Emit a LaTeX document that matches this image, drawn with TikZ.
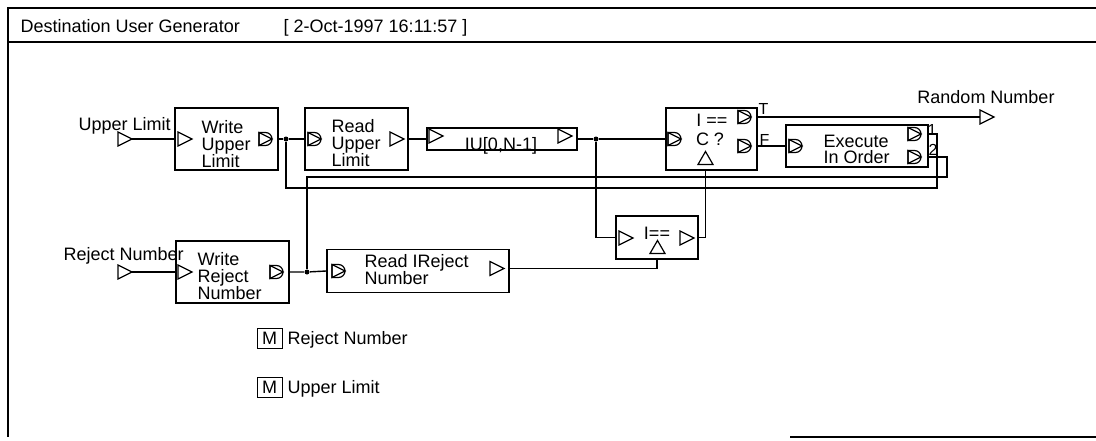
\documentclass[tikz,border=0pt]{standalone}
\usepackage{fontspec}
\setmainfont{Liberation Sans}
\begin{document}
\begin{tikzpicture}[x=1pt,y=-1pt, line width=1.4pt,
  font=\fontsize{18}{17}\selectfont,
  box/.style={draw, rectangle, inner sep=0},
  txt/.style={inner sep=0, anchor=base west},
  ctxt/.style={inner sep=0, anchor=base},
  small/.style={inner sep=0, anchor=base west, font=\fontsize{16}{16}\selectfont},
  wire/.style={line width=1.4pt},
  port/.style={line width=1.2pt, line join=miter},
  jdot/.style={circle, fill, inner sep=0, minimum size=5},
  mbox/.style={draw, rectangle, inner sep=0, line width=1pt, minimum width=25, minimum height=20},
  pics/tri/.style={code={\draw[port] (0,-7)--(14,0)--(0,7)--cycle;}},
  pics/dport/.style={code={
     \draw[port] (0,-6.5)--(13,0)--(0,6.5)--cycle;
     \draw[port] (0,-6.5)--(6.5,-6.5) arc[start angle=-90,end angle=90,radius=6.5]--(0,6.5)--cycle;}},
  pics/uptri/.style={code={\draw[port] (-7.5,6.5)--(0,-6.5)--(7.5,6.5)--cycle;}}
]
\useasboundingbox (0,0) rectangle (1096,440);

% frame
\coordinate (ftl) at (8,8);
\coordinate (ftr) at (1096,8);
\coordinate (fsl) at (8,42);
\coordinate (fsr) at (1096,42);
\coordinate (fbl) at (8,437);
\coordinate (fbs) at (790,437);
\coordinate (fbr) at (1096,437);
\draw (ftr) -- (ftl) -- (fbl);
\draw (fsl) -- (fsr);
\draw (fbs) -- (fbr);

\node[txt] (ttl) at (20,32) {Destination User Generator};
\node[txt] (date) at (283,32) {[ 2-Oct-1997 16:11:57 ]};

% ---------- row 1
\node[txt] (ullbl) at (78,130) {Upper Limit};
\pic at (118,139) {tri};
\coordinate (ulin) at (132,139);

\node[box, minimum width=103, minimum height=62] (wul) at (226.5,139) {};
\pic at (178,139) {tri};
\node[txt] (wul1) at (201,133) {Write};
\node[txt] (wul2) at (201,150) {Upper};
\node[txt] (wul3) at (201,167) {Limit};
\pic at (259,139) {dport};
\draw[wire] (ulin) -- (wul.west);

\node[jdot] (d1) at (286,139) {};

\node[box, minimum width=103, minimum height=62] (rul) at (356.5,139) {};
\pic at (308,139) {dport};
\node[txt] (rul1) at (331,132) {Read};
\node[txt] (rul2) at (331,149) {Upper};
\node[txt] (rul3) at (331,166) {Limit};
\pic at (390,139) {tri};
\draw[wire] (wul.east) -- (d1) -- (rul.west);

\node[box, minimum width=150, minimum height=22] (iu) at (502,139) {};
\pic at (429,136) {tri};
\node[ctxt] (iut) at (501,150) {IU[0,N-1]};
\pic at (558,136) {tri};
\draw[wire] (rul.east) -- (iu.west);

\node[jdot] (d2) at (596,139) {};

\node[box, minimum width=91, minimum height=62] (icq) at (711.5,139) {};
\pic at (668,139) {dport};
\node[ctxt] (icq1) at (712,126) {I ==};
\node[ctxt] (icq2) at (710,145) {C ?};
\pic at (705.5,158) {uptri};
\coordinate (icqb) at (705.5,170);
\pic at (738,117) {dport};
\pic at (738,146) {dport};
\node[small] (tl) at (758,114) {T};
\node[small] (fl) at (759,145) {F};
\coordinate (tout) at (757,117);
\coordinate (fout) at (757,146);
\draw[wire] (iu.east) -- (d2) -- (icq.west);

\pic at (980,117) {tri};
\coordinate (rnin) at (980,117);
\node[ctxt] (rnl) at (986,103) {Random Number};
\draw[wire] (tout) -- (rnin);

\node[box, minimum width=142, minimum height=42] (ex) at (857,146) {};
\pic at (789,146) {dport};
\node[txt] (ex1) at (823,147) {Execute};
\node[txt] (ex2) at (823,163) {In Order};
\pic at (908,134) {dport};
\pic at (908,157) {dport};
\node[small] (l1) at (927,135) {1};
\node[small] (l2) at (928,155) {2};
\coordinate (e1) at (928,134);
\coordinate (e2) at (928,157);
\draw[wire] (fout) -- (ex.west);

% ---------- small I== box
\node[box, minimum width=82, minimum height=43] (ieq) at (657,237.5) {};
\pic at (619,238) {tri};
\node[ctxt] (ieqt) at (657,239) {I==};
\pic at (657.5,247) {uptri};
\pic at (680,238) {tri};
\draw[wire] (d2) |- (ieq.west);
\draw[wire] (ieq.east) -| (icqb);

% ---------- row 2
\node[txt] (rnlbl) at (63,260) {Reject Number};
\pic at (118,272) {tri};
\coordinate (rnin2) at (132,272);

\node[box, minimum width=113, minimum height=62] (wrn) at (232.5,272) {};
\pic at (178,272) {tri};
\node[txt] (wrn1) at (197,265) {Write};
\node[txt] (wrn2) at (197,282) {Reject};
\node[txt] (wrn3) at (197,299) {Number};
\pic at (270,272) {dport};
\draw[wire] (rnin2) -- (wrn.west);

\node[jdot] (d3) at (307,272) {};

\node[box, minimum width=182, minimum height=43] (rir) at (418,271) {};
\pic at (332,271) {dport};
\node[txt] (rir1) at (364,267) {Read IReject};
\node[txt] (rir2) at (364,284) {Number};
\pic at (490,268.5) {tri};
\coordinate (rirout) at (509,268.5);
\draw[wire] (wrn.east) -- (d3) -- (rir.west);
\draw[wire] (rirout) -| (ieq.south);

% ---------- feedback wires from Execute In Order
\draw[wire] (e1) -- ++(9,0) -- ++(0,54) -| (d1);
\draw[wire] (e2) -- ++(19,0) -- ++(0,20) -| (d3);

% ---------- memories
\node[mbox] (m1) at (269.5,338) {M};
\node[txt] (m1t) at (287,344.5) {Reject Number};
\node[mbox] (m2) at (269.5,387) {M};
\node[txt] (m2t) at (287,393.5) {Upper Limit};
\end{tikzpicture}
\end{document}
